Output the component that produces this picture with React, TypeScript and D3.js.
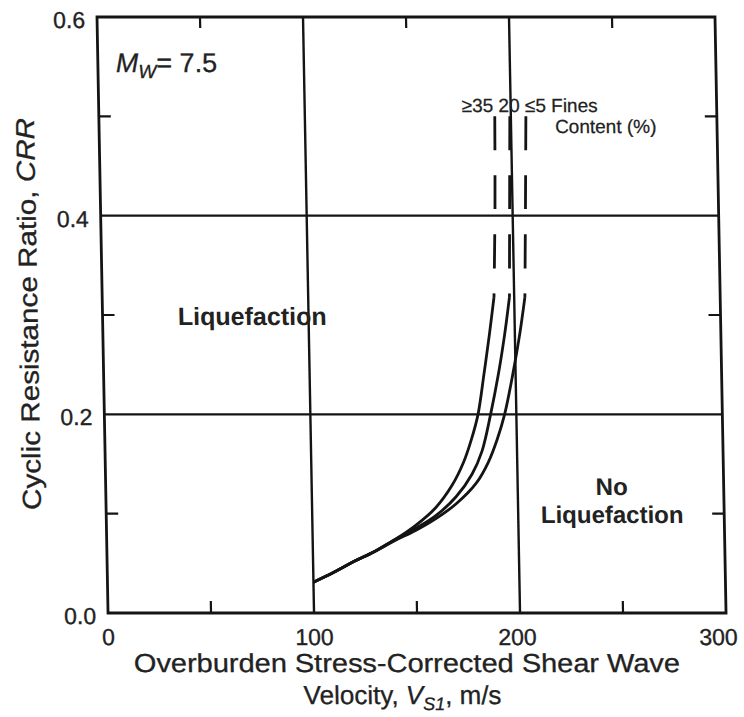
import React from "react";
import * as d3 from "d3";

// ---- data ----
const X_TICKS = [0, 100, 200, 300];
const Y_TICKS = [0.0, 0.2, 0.4, 0.6];
const X_MINOR = [50, 150, 250];
const Y_MINOR = [0.1, 0.3, 0.5];
const X_GRID = [100, 200];
const Y_GRID = [0.2, 0.4];

const FINES_LABELS = ["≥35", "20", "≤5"];

// solid lower parts: [Vs1 (m/s), CRR]
const SOLID_FC35: [number, number][] = [
  [100, 0.031], [110, 0.041], [120, 0.052], [130, 0.062], [140, 0.074],
  [150, 0.088], [160, 0.106], [168, 0.128], [174, 0.152], [178, 0.175],
  [181.4, 0.2], [184.6, 0.24], [187.6, 0.28], [190.2, 0.318],
];
const SOLID_FC20: [number, number][] = [
  [100, 0.031], [110, 0.041], [120, 0.052], [130, 0.062], [140, 0.074],
  [150, 0.085], [160, 0.098], [170, 0.117], [178, 0.14], [183, 0.163],
  [187.5, 0.2], [191.6, 0.24], [195, 0.28], [197.7, 0.318],
];
const SOLID_FC5: [number, number][] = [
  [100, 0.031], [110, 0.041], [120, 0.052], [130, 0.062], [140, 0.073],
  [150, 0.083], [160, 0.095], [170, 0.11], [180, 0.131], [186, 0.152],
  [190.5, 0.175], [194.3, 0.2], [198.6, 0.24], [202.3, 0.28], [205.2, 0.318],
];
// dashed upper parts (drawn from the top down)
const DASHED_FC35: [number, number][] = [[192.2, 0.5], [191.5, 0.41], [190.2, 0.318]];
const DASHED_FC20: [number, number][] = [[199.5, 0.5], [198.6, 0.41], [197.7, 0.318]];
const DASHED_FC5: [number, number][] = [[207.3, 0.5], [206.3, 0.41], [205.2, 0.318]];

const W = 744;
const H = 717;
const LEFT = 97;
const RIGHT = 715;
const TOP = 17;
const BOTTOM = 613;
const SKEW = 1.06; // the scan is slightly sheared
const INK = "#141414";
const FONT = "'Liberation Sans', Arial, Helvetica, sans-serif";

export default function App() {
  const x = d3.scaleLinear().domain([0, 300]).range([LEFT, RIGHT]);
  const y = d3.scaleLinear().domain([0, 0.6]).range([BOTTOM, TOP]);
  const line = d3
    .line<[number, number]>()
    .x((d) => x(d[0]))
    .y((d) => y(d[1]))
    .curve(d3.curveCatmullRom.alpha(0.5));

  const solids = [SOLID_FC35, SOLID_FC20, SOLID_FC5];
  const dashes = [DASHED_FC35, DASHED_FC20, DASHED_FC5];
  const xLabelNudge = (v: number) => (v === 300 ? -8 : v === 200 ? -3 : 0);

  return (
    <svg
      width={W}
      height={H}
      style={{ position: "absolute", left: 0, top: 0, display: "block", background: "#fff" }}
      fontFamily={FONT}
    >
      <rect x={0} y={0} width={W} height={H} fill="#fff" />
      <g transform={`translate(0,${TOP}) skewX(${SKEW}) translate(0,${-TOP})`} fill="#222">
        {/* grid lines */}
        {X_GRID.map((v) => (
          <line key={"gx" + v} x1={x(v)} x2={x(v)} y1={y(0)} y2={y(0.6)} stroke={INK} strokeWidth={2.4} />
        ))}
        {Y_GRID.map((v) => (
          <line key={"gy" + v} x1={x(0)} x2={x(300)} y1={y(v)} y2={y(v)} stroke={INK} strokeWidth={2.4} />
        ))}
        {/* minor ticks */}
        {X_MINOR.map((v) => (
          <g key={"mx" + v}>
            <line x1={x(v)} x2={x(v)} y1={y(0)} y2={y(0) - 12} stroke={INK} strokeWidth={2.2} />
            <line x1={x(v)} x2={x(v)} y1={y(0.6)} y2={y(0.6) + 11} stroke={INK} strokeWidth={2.2} />
          </g>
        ))}
        {Y_MINOR.map((v) => (
          <g key={"my" + v}>
            <line x1={x(0)} x2={x(0) + 12} y1={y(v)} y2={y(v)} stroke={INK} strokeWidth={2.2} />
            <line x1={x(300) - 12} x2={x(300)} y1={y(v)} y2={y(v)} stroke={INK} strokeWidth={2.2} />
          </g>
        ))}
        {/* frame */}
        <rect
          x={x(0)}
          y={y(0.6)}
          width={x(300) - x(0)}
          height={y(0) - y(0.6)}
          fill="none"
          stroke={INK}
          strokeWidth={2.8}
        />
        {/* curves */}
        {solids.map((d, i) => (
          <path key={"s" + i} d={line(d) || ""} fill="none" stroke={INK} strokeWidth={2.8} />
        ))}
        {dashes.map((d, i) => (
          <path
            key={"d" + i}
            d={line(d) || ""}
            fill="none"
            stroke={INK}
            strokeWidth={2.8}
            strokeDasharray="34 25"
          />
        ))}
        {/* tick labels */}
        {Y_TICKS.map((v) => (
          <text key={"yl" + v} x={85} y={y(v) + 11} fontSize={23} textAnchor="end" stroke="#222" strokeWidth={0.35}>
            {v.toFixed(1)}
          </text>
        ))}
        {X_TICKS.map((v) => (
          <text
            key={"xl" + v}
            x={x(v) + xLabelNudge(v)}
            y={y(0) + 32}
            fontSize={23}
            textAnchor="middle"
            stroke="#222"
            strokeWidth={0.35}
          >
            {v}
          </text>
        ))}
        {/* axis titles */}
        <text
          transform={`translate(32,314) rotate(-90)`}
          fontSize={26}
          textAnchor="middle"
          textLength={392}
          lengthAdjust="spacingAndGlyphs"
          stroke="#222"
          strokeWidth={0.3}
        >
          Cyclic Resistance Ratio, <tspan fontStyle="italic">CRR</tspan>
        </text>
        <text
          x={395}
          y={672}
          fontSize={26}
          textAnchor="middle"
          textLength={546}
          lengthAdjust="spacingAndGlyphs"
          stroke="#222"
          strokeWidth={0.3}
        >
          Overburden Stress-Corrected Shear Wave
        </text>
        <text x={390} y={704} fontSize={26} textAnchor="middle" stroke="#222" strokeWidth={0.3}>
          Velocity, <tspan fontStyle="italic">V</tspan>
          <tspan fontStyle="italic" fontSize={18} dy={6}>S1</tspan>
          <tspan dy={-6}>, m/s</tspan>
        </text>
        {/* annotations */}
        <text x={115} y={72} fontSize={27} stroke="#222" strokeWidth={0.3}>
          <tspan fontStyle="italic">M</tspan>
          <tspan fontStyle="italic" fontSize={19} dy={6}>W</tspan>
          <tspan dy={-6}>= 7.5</tspan>
        </text>
        <text x={460} y={112} fontSize={19} stroke="#222" strokeWidth={0.25}>
          {FINES_LABELS.join(" ")} Fines
        </text>
        <text x={553} y={133} fontSize={19} stroke="#222" strokeWidth={0.25}>
          Content (%)
        </text>
        <text x={321} y={325} fontSize={25} fontWeight="bold" textAnchor="end">
          Liquefaction
        </text>
        <text x={603} y={495} fontSize={24} fontWeight="bold" textAnchor="middle">
          No
        </text>
        <text x={603} y={523} fontSize={24} fontWeight="bold" textAnchor="middle">
          Liquefaction
        </text>
      </g>
    </svg>
  );
}
